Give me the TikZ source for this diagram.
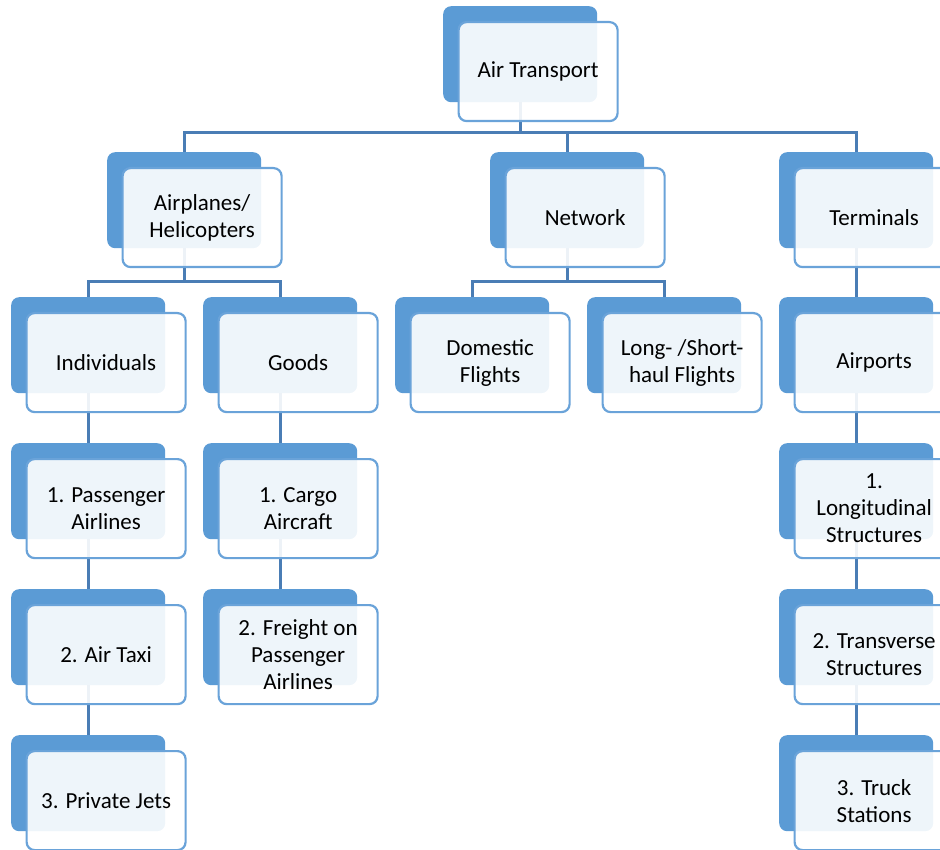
\documentclass[tikz,border=0pt]{standalone}
\usepackage{fontspec}
\setmainfont{Carlito}
\definecolor{boxblue}{HTML}{5B9BD5}
\definecolor{edgeblue}{HTML}{6AA3D9}
\definecolor{linkblue}{HTML}{4A7DB5}
\tikzset{
  backbox/.style={fill=boxblue, draw=none, rounded corners=8pt,
    minimum width=154pt, minimum height=96pt, inner sep=0pt, anchor=north west},
  frontbox/.style={fill=white, fill opacity=0.9, text opacity=1, draw=edgeblue,
    line width=2.2pt, rounded corners=8pt, minimum width=159pt, minimum height=99pt,
    inner sep=0pt, anchor=north west, align=center,
    font=\fontsize{23}{27}\selectfont},
  conn/.style={draw=linkblue, line width=3pt},
}
% back (shadow) panel of a box, placed by its top-left corner
\newcommand\backpanel[3]{\node[backbox] (#1-b) at (#2,#3) {};}
% front panel carrying the label, offset from the back panel
\newcommand\frontpanel[2]{\node[frontbox] (#1) at ([xshift=14.5pt,yshift=-15pt]#1-b.north west) {#2};}
\begin{document}
\begin{tikzpicture}[x=1pt,y=-1pt]
\useasboundingbox (0,0) rectangle (940,850);
\clip (0,0) rectangle (940,850);

% back panels
\backpanel{air}{443}{6}
\backpanel{planes}{107}{152}
\backpanel{net}{490}{152}
\backpanel{term}{779}{152}
\backpanel{ind}{11}{297}
\backpanel{goods}{203}{297}
\backpanel{dom}{395}{297}
\backpanel{haul}{587}{297}
\backpanel{ports}{779}{297}
\backpanel{pass}{11}{443}
\backpanel{cargo}{203}{443}
\backpanel{longi}{779}{443}
\backpanel{taxi}{11}{589}
\backpanel{freight}{203}{589}
\backpanel{trans}{779}{589}
\backpanel{jets}{11}{735}
\backpanel{truck}{779}{735}

% connectors
\coordinate (bar1) at (0,133);
\coordinate (bar2) at (0,282);
\draw[conn] (air-b.south) -- (air-b.south |- bar1);
\draw[conn] (planes-b.north) -- (planes-b.north |- bar1) -- (term-b.north |- bar1) -- (term-b.north);
\draw[conn] (net-b.north) -- (net-b.north |- bar1);
\draw[conn] (planes-b.south) -- (planes-b.south |- bar2);
\draw[conn] (ind-b.north) -- (ind-b.north |- bar2) -- (goods-b.north |- bar2) -- (goods-b.north);
\draw[conn] (net-b.south) -- (net-b.south |- bar2);
\draw[conn] (dom-b.north) -- (dom-b.north |- bar2) -- (haul-b.north |- bar2) -- (haul-b.north);
\draw[conn] (term-b.south) -- (ports-b.north);
\draw[conn] (ind-b.south) -- (pass-b.north);
\draw[conn] (pass-b.south) -- (taxi-b.north);
\draw[conn] (taxi-b.south) -- (jets-b.north);
\draw[conn] (goods-b.south) -- (cargo-b.north);
\draw[conn] (cargo-b.south) -- (freight-b.north);
\draw[conn] (ports-b.south) -- (longi-b.north);
\draw[conn] (longi-b.south) -- (trans-b.north);
\draw[conn] (trans-b.south) -- (truck-b.north);

% front panels with labels
\frontpanel{air}{Air Transport}
\frontpanel{planes}{Airplanes/\\Helicopters}
\frontpanel{net}{Network}
\frontpanel{term}{Terminals}
\frontpanel{ind}{Individuals}
\frontpanel{goods}{Goods}
\frontpanel{dom}{Domestic\\Flights}
\frontpanel{haul}{Long- /Short-\\haul Flights}
\frontpanel{ports}{Airports}
\frontpanel{pass}{1. Passenger\\Airlines}
\frontpanel{cargo}{1. Cargo\\Aircraft}
\frontpanel{longi}{1.\\Longitudinal\\Structures}
\frontpanel{taxi}{2. Air Taxi}
\frontpanel{freight}{2. Freight on\\Passenger\\Airlines}
\frontpanel{trans}{2. Transverse\\Structures}
\frontpanel{jets}{3. Private Jets}
\frontpanel{truck}{3. Truck\\Stations}
\end{tikzpicture}
\end{document}
